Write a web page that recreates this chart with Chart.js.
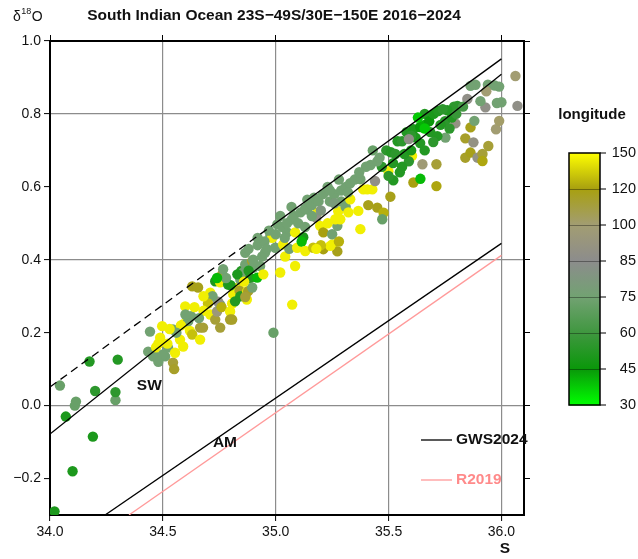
<!DOCTYPE html>
<html>
<head>
<meta charset="utf-8">
<script src="https://cdn.jsdelivr.net/npm/chart.js@4.4.0/dist/chart.umd.min.js"></script>
<style>
  html, body { margin: 0; padding: 0; background: #fff; }
  #wrap { width: 638px; height: 559px; }
</style>
</head>
<body>
<div id="wrap"><canvas id="chart" width="638" height="559"></canvas></div>
<script>
// samples: salinity, d18O and longitude (deg E)
var salinity = [
  34.02, 34.10, 34.19, 34.07, 34.11, 34.115, 34.29, 34.29, 34.20, 34.044,
  34.175, 34.30, 34.443, 34.466, 34.435, 34.457, 34.488, 34.48, 34.497, 34.51,
  34.523, 34.545, 34.545, 34.554, 34.576, 34.59, 34.59, 34.599, 34.612, 34.625,
  34.62, 34.63, 34.665, 34.665, 34.678, 34.63, 34.656, 34.71, 34.71, 34.732,
  34.74, 34.754, 34.763, 34.767, 34.732, 34.754, 34.754, 34.745, 34.76, 34.789,
  34.798, 34.798, 34.807, 34.807, 34.812, 34.82, 34.834, 34.84, 34.843, 34.843,
  34.847, 34.856, 34.865, 34.865, 34.872, 34.874, 34.878, 34.887, 34.865, 34.896,
  34.900, 34.896, 34.918, 34.931, 34.945, 34.940, 34.953, 34.976, 34.984, 34.998,
  35.007, 34.99, 35.020, 35.033, 35.042, 35.051, 35.06, 35.073, 35.086, 35.086,
  35.095, 35.07, 35.122, 35.115, 35.131, 35.140, 35.166, 35.184, 35.18, 35.197,
  35.211, 35.211, 35.251, 35.25, 35.273, 35.273, 35.277, 35.286, 35.29, 35.31,
  35.242, 35.264, 35.322, 35.330, 35.366, 35.375, 35.388, 35.406, 35.428, 35.410,
  35.450, 35.478, 35.472, 35.499, 35.508, 35.521, 35.604, 35.610, 35.641, 35.650,
  35.712, 35.712, 35.752, 35.796, 35.840, 35.840, 35.863, 35.863, 35.876, 35.880,
  35.894, 35.916, 35.916, 35.942, 35.976, 35.990, 35.929, 36.000, 36.071, 36.062,
  35.863, 35.885, 35.94, 35.97, 35.99, 35.933, 35.849, 35.907, 35.98, 35.805,
  35.79, 35.76, 35.66, 35.49, 35.51, 35.54, 35.56, 35.58, 35.61, 35.64,
  35.66, 35.68, 35.70, 35.72, 35.74, 35.685, 35.716, 35.698, 35.64, 35.66,
  35.59, 35.57, 35.53, 35.56, 35.47, 35.52, 35.50, 35.55, 35.60, 35.62,
  35.60, 35.63, 35.66, 35.75, 35.77, 35.78, 35.73, 35.80, 35.83, 35.24,
  35.26, 35.29, 35.31, 35.33, 35.35, 35.375, 35.44, 35.42, 35.40, 35.37,
  35.45, 35.59, 35.28, 35.32, 35.43, 35.46, 34.88, 34.92, 34.95, 34.97,
  35.00, 35.03, 35.05, 35.08, 35.10, 35.11, 35.13, 35.16, 35.17, 35.19,
  35.21, 35.23, 35.24, 35.16, 35.13, 35.04, 35.02, 34.96, 34.90, 34.92,
  35.20, 35.26, 35.14, 35.07, 34.72, 34.70, 34.68, 34.66, 34.64, 34.60,
  34.58, 34.56, 34.53, 34.52, 34.47, 34.50, 34.55, 34.48, 34.68, 34.80,
  34.78, 34.83, 34.86, 34.88, 34.74, 35.20, 35.28, 35.18, 35.23
];
var d18o = [
  -0.29, -0.18, -0.085, -0.03, 0.00, 0.011, 0.015, 0.037, 0.040, 0.055,
  0.121, 0.126, 0.203, 0.135, 0.148, 0.135, 0.186, 0.17, 0.218, 0.135,
  0.159, 0.209, 0.118, 0.145, 0.181, 0.162, 0.223, 0.272, 0.231, 0.245,
  0.205, 0.195, 0.214, 0.181, 0.214, 0.327, 0.324, 0.310, 0.250, 0.236,
  0.258, 0.214, 0.360, 0.374, 0.341, 0.338, 0.277, 0.285, 0.27, 0.332,
  0.258, 0.236, 0.280, 0.236, 0.305, 0.286, 0.324, 0.315, 0.300, 0.346,
  0.369, 0.365, 0.387, 0.419, 0.291, 0.313, 0.314, 0.350, 0.298, 0.396,
  0.378, 0.324, 0.351, 0.383, 0.360, 0.409, 0.420, 0.465, 0.460, 0.433,
  0.497, 0.20, 0.365, 0.442, 0.409, 0.475, 0.43, 0.277, 0.475, 0.383,
  0.433, 0.510, 0.462, 0.45, 0.424, 0.538, 0.433, 0.529, 0.515, 0.493,
  0.475, 0.429, 0.442, 0.470, 0.423, 0.493, 0.533, 0.511, 0.56, 0.545,
  0.438, 0.511, 0.530, 0.566, 0.534, 0.484, 0.593, 0.593, 0.593, 0.550,
  0.543, 0.529, 0.511, 0.643, 0.573, 0.618, 0.685, 0.612, 0.622, 0.662,
  0.662, 0.602, 0.735, 0.774, 0.733, 0.680, 0.763, 0.694, 0.722, 0.781,
  0.680, 0.690, 0.671, 0.712, 0.758, 0.781, 0.818, 0.832, 0.822, 0.904,
  0.877, 0.880, 0.880, 0.878, 0.875, 0.862, 0.841, 0.835, 0.830, 0.822,
  0.820, 0.810, 0.800, 0.700, 0.695, 0.725, 0.725, 0.750, 0.758, 0.764,
  0.770, 0.780, 0.800, 0.808, 0.813, 0.750, 0.739, 0.723, 0.720, 0.700,
  0.670, 0.690, 0.690, 0.655, 0.655, 0.665, 0.630, 0.640, 0.700, 0.735,
  0.740, 0.790, 0.760, 0.780, 0.760, 0.790, 0.770, 0.800, 0.820, 0.560,
  0.580, 0.590, 0.600, 0.610, 0.620, 0.621, 0.616, 0.660, 0.655, 0.640,
  0.670, 0.731, 0.620, 0.585, 0.700, 0.680, 0.430, 0.440, 0.450, 0.480,
  0.470, 0.490, 0.500, 0.520, 0.500, 0.530, 0.540, 0.550, 0.570, 0.560,
  0.580, 0.600, 0.590, 0.520, 0.490, 0.460, 0.520, 0.430, 0.400, 0.460,
  0.535, 0.555, 0.565, 0.545, 0.300, 0.280, 0.260, 0.240, 0.270, 0.250,
  0.220, 0.200, 0.210, 0.170, 0.160, 0.140, 0.100, 0.120, 0.300, 0.330,
  0.350, 0.360, 0.340, 0.370, 0.350, 0.440, 0.450, 0.430, 0.500
];
var longitude = [
  50, 50, 50, 50, 72, 72, 72, 55, 55, 72,
  52, 52, 75, 75, 75, 75, 145, 145, 145, 75,
  75, 75, 112, 145, 145, 145, 145, 145, 75, 75,
  145, 130, 112, 145, 112, 118, 118, 145, 145, 112,
  95, 112, 115, 75, 50, 145, 75, 88, 125, 52,
  145, 115, 145, 115, 145, 52, 145, 115, 52, 75,
  52, 75, 75, 75, 145, 145, 115, 52, 112, 115,
  75, 75, 40, 75, 145, 75, 75, 75, 145, 75,
  75, 72, 145, 145, 145, 75, 75, 145, 145, 145,
  145, 75, 50, 40, 145, 75, 130, 145, 88, 145,
  120, 120, 145, 75, 118, 75, 145, 145, 75, 75,
  145, 145, 145, 145, 145, 145, 145, 145, 145, 118,
  118, 125, 72, 145, 118, 52, 145, 120, 40, 98,
  112, 122, 75, 90, 115, 115, 118, 118, 90, 75,
  90, 112, 122, 112, 100, 102, 88, 75, 88, 100,
  75, 75, 75, 75, 75, 100, 88, 75, 75, 55,
  55, 52, 52, 55, 52, 52, 55, 52, 50, 45,
  42, 45, 50, 52, 55, 52, 52, 55, 52, 52,
  55, 52, 55, 52, 55, 52, 55, 52, 50, 50,
  55, 38, 38, 55, 55, 52, 52, 58, 62, 75,
  75, 75, 75, 75, 75, 75, 88, 75, 75, 75,
  75, 88, 75, 75, 72, 75, 75, 75, 75, 75,
  75, 75, 75, 75, 75, 75, 75, 75, 75, 75,
  75, 75, 75, 75, 75, 75, 75, 75, 75, 75,
  80, 78, 75, 75, 75, 130, 145, 75, 145, 75,
  145, 75, 145, 145, 145, 75, 115, 75, 145, 50,
  75, 50, 145, 52, 40, 130, 125, 145, 145
];

// reference lines (end points)
var swUpperS = [34.0, 35.0, 36.0];   // GWS2024, dashed below 35.0
var swUpperD = [0.051, 0.501, 0.951];
var swLowerS = [34.0, 36.0];
var swLowerD = [-0.078, 0.909];
var amS = [34.244, 36.0];
var amD = [-0.3, 0.445];
var r2019S = [34.35, 36.0];
var r2019D = [-0.3, 0.412];

// colour scale
var cbTicks = [30, 45, 60, 75, 85, 100, 120, 150];
var cbColors = ['#00ff00', '#0a980a', '#3f973f', '#72a272', '#8c8c8c', '#a29d72', '#a8a010', '#ffff00'];

var FONT = '"Liberation Sans", Arial, Helvetica, sans-serif';
var GRID = '#8c8c8c';

function hexRgb(h) {
  return [parseInt(h.slice(1, 3), 16), parseInt(h.slice(3, 5), 16), parseInt(h.slice(5, 7), 16)];
}

function lonColor(v) {
  var i = 0;
  while (i < cbTicks.length - 2 && v > cbTicks[i + 1]) i++;
  var t = (v - cbTicks[i]) / (cbTicks[i + 1] - cbTicks[i]);
  t = Math.max(0, Math.min(1, t));
  var a = hexRgb(cbColors[i]), b = hexRgb(cbColors[i + 1]);
  return 'rgb(' + a.map(function (c, k) { return Math.round(c + (b[k] - c) * t); }).join(',') + ')';
}

function pairs(xs, ys) {
  return xs.map(function (x, i) { return { x: x, y: ys[i] }; });
}

function fmt(v) {
  if (Math.abs(v) < 1e-9) v = 0;
  return v.toFixed(1).replace('-', '\u2212');
}

var decor = {
  id: 'decor',
  afterDraw: function (chart) {
    var c = chart.ctx;
    var xs = chart.scales.x, ys = chart.scales.y;
    c.save();
    c.fillStyle = '#111';
    c.textBaseline = 'middle';

    // title
    c.font = 'bold 15.5px ' + FONT;
    c.textAlign = 'center';
    c.fillText('South Indian Ocean 23S\u221249S/30E\u2212150E 2016\u22122024', 274, 16);

    // y label
    c.textAlign = 'left';
    c.font = '14px ' + FONT;
    c.fillText('\u03b4', 13, 17);
    var w = c.measureText('\u03b4').width;
    c.font = '9px ' + FONT;
    c.fillText('18', 13 + w + 0.5, 12);
    var w2 = c.measureText('18').width;
    c.font = '14px ' + FONT;
    c.fillText('O', 13 + w + w2 + 1, 17);

    // x label
    c.font = 'bold 15.5px ' + FONT;
    c.textAlign = 'center';
    c.fillText('S', 505, 549);

    // line labels
    c.fillText('SW', xs.getPixelForValue(34.44), ys.getPixelForValue(0.055));
    c.fillText('AM', xs.getPixelForValue(34.775), ys.getPixelForValue(-0.102));

    // legend
    c.lineWidth = 1.3;
    c.strokeStyle = '#000';
    c.beginPath(); c.moveTo(421, 440); c.lineTo(452, 440); c.stroke();
    c.strokeStyle = '#ff9a9a';
    c.beginPath(); c.moveTo(421, 480); c.lineTo(452, 480); c.stroke();
    c.textAlign = 'left';
    c.fillStyle = '#111';
    c.fillText('GWS2024', 456, 440);
    c.fillStyle = '#ff8a8a';
    c.fillText('R2019', 456, 480);

    // colour bar
    var x0 = 569, x1 = 600, top = 153, bot = 405;
    var h = (bot - top) / (cbTicks.length - 1);
    for (var i = 0; i < cbTicks.length - 1; i++) {
      var yb = bot - i * h, yt = bot - (i + 1) * h;
      var g = c.createLinearGradient(0, yb, 0, yt);
      g.addColorStop(0, cbColors[i]);
      g.addColorStop(1, cbColors[i + 1]);
      c.fillStyle = g;
      c.fillRect(x0, yt, x1 - x0, yb - yt + 0.5);
    }
    c.strokeStyle = 'rgba(0,0,0,0.35)';
    c.lineWidth = 1;
    for (i = 1; i < cbTicks.length - 1; i++) {
      var yy = Math.round(bot - i * h) + 0.5;
      c.beginPath(); c.moveTo(x0, yy); c.lineTo(x1, yy); c.stroke();
    }
    c.strokeStyle = '#000';
    c.lineWidth = 1.5;
    c.strokeRect(x0, top, x1 - x0, bot - top);
    c.lineWidth = 1;
    c.fillStyle = '#111';
    c.font = '14.5px ' + FONT;
    c.textAlign = 'right';
    for (i = 0; i < cbTicks.length; i++) {
      var ty = bot - i * h;
      c.beginPath(); c.moveTo(x1, ty); c.lineTo(x1 + 6, ty); c.stroke();
      c.fillText(String(cbTicks[i]), 636, ty);
    }
    c.font = 'bold 15px ' + FONT;
    c.textAlign = 'center';
    c.fillText('longitude', 592, 115);
    c.restore();
  }
};

function lineSet(label, xs, ys, color, order) {
  return {
    type: 'line',
    label: label,
    data: pairs(xs, ys),
    borderColor: color,
    borderWidth: 1.3,
    pointRadius: 0,
    fill: false,
    tension: 0,
    order: order
  };
}

var upper = lineSet('GWS2024', swUpperS, swUpperD, '#000', 0);
upper.segment = { borderDash: function (ctx) { return ctx.p0DataIndex === 0 ? [8, 5] : undefined; } };

new Chart(document.getElementById('chart'), {
  type: 'scatter',
  data: {
    datasets: [
      upper,
      lineSet('GWS2024 low', swLowerS, swLowerD, '#000', 0),
      lineSet('AM', amS, amD, '#000', 0),
      lineSet('R2019', r2019S, r2019D, '#ff9a9a', 0),
      {
        label: 'samples',
        data: pairs(salinity, d18o),
        backgroundColor: longitude.map(lonColor),
        borderWidth: 0,
        pointRadius: 5.2,
        pointHoverRadius: 5.2,
        clip: 0,
        order: 1
      }
    ]
  },
  options: {
    responsive: false,
    animation: false,
    layout: { padding: 0 },
    plugins: {
      legend: { display: false },
      title: { display: false },
      tooltip: { enabled: false }
    },
    scales: {
      x: {
        type: 'linear', position: 'bottom', min: 34, max: 36.1,
        ticks: { stepSize: 0.5, includeBounds: false, callback: fmt, color: '#111',
                 font: { size: 14, family: FONT }, padding: 3, maxRotation: 0 },
        grid: { color: GRID, lineWidth: 1.2, tickColor: '#000', tickWidth: 1, tickLength: 6 },
        border: { color: '#000', width: 2 },
        afterFit: function (s) { s.height = 44; }
      },
      xTop: {
        type: 'linear', position: 'top', min: 34, max: 36.1,
        ticks: { stepSize: 0.5, includeBounds: false, display: false },
        grid: { drawOnChartArea: false, tickColor: '#000', tickWidth: 1, tickLength: 6 },
        border: { color: '#000', width: 2 },
        afterFit: function (s) { s.height = 41; }
      },
      y: {
        type: 'linear', position: 'left', min: -0.3, max: 1.0,
        ticks: { stepSize: 0.2, includeBounds: false, callback: fmt, color: '#111',
                 font: { size: 14, family: FONT }, padding: 3 },
        grid: {
          color: function (ctx) {
            var v = ctx.tick ? ctx.tick.value : 0;
            return Math.abs(v / 0.4 - Math.round(v / 0.4)) < 1e-6 ? GRID : 'rgba(0,0,0,0)';
          },
          lineWidth: 1.2, tickColor: '#000', tickWidth: 1, tickLength: 6
        },
        border: { color: '#000', width: 2 },
        afterFit: function (s) { s.width = 50; }
      },
      yRight: {
        type: 'linear', position: 'right', min: -0.3, max: 1.0,
        ticks: { stepSize: 0.2, includeBounds: false, display: false },
        grid: { drawOnChartArea: false, tickColor: '#000', tickWidth: 1, tickLength: 6 },
        border: { color: '#000', width: 2 },
        afterFit: function (s) { s.width = 114; }
      }
    }
  },
  plugins: [decor]
});
</script>
</body>
</html>
